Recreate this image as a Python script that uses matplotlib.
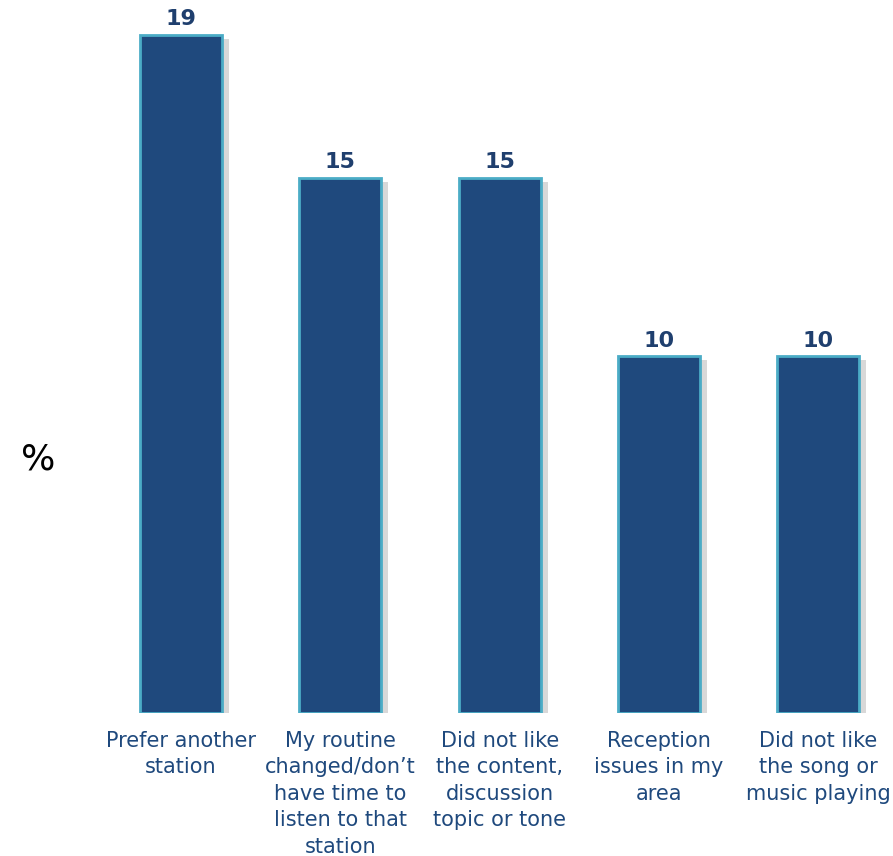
import matplotlib
matplotlib.use("Agg")
import matplotlib.pyplot as plt
import matplotlib.patheffects as pe

categories = ["Prefer another\nstation",
              "My routine\nchanged/don\u2019t\nhave time to\nlisten to that\nstation",
              "Did not like\nthe content,\ndiscussion\ntopic or tone",
              "Reception\nissues in my\narea",
              "Did not like\nthe song or\nmusic playing"]
values = [19, 15, 15, 10, 10]

bar_col = "#1f497d"
edge_col = "#4bacc6"
txt_col = "#1f497d"

fig = plt.figure(figsize=(8.93, 8.56), dpi=100)
ax = fig.add_axes([85.4/893, (856-713)/856, (890-85.4)/893, 696/856])

x = range(len(values))
bars = ax.bar(x, values, width=0.514, color=bar_col, edgecolor=edge_col, linewidth=2)
for b in bars:
    b.set_path_effects([pe.SimplePatchShadow(offset=(5, -3), shadow_rgbFace="#808080", alpha=0.3), pe.Normal()])

for xi, v in zip(x, values):
    ax.annotate(str(v), (xi, v), xytext=(0, 4), textcoords="offset points",
                ha="center", va="bottom", fontsize=16, fontweight="bold", color="#1f3f6e")

ax.set_xlim(-0.6, 4.45)
ax.set_ylim(0, 19.5)
ax.set_xticks(list(x))
ax.set_xticklabels(categories, fontsize=15, color=txt_col, linespacing=1.4, va="top")
ax.tick_params(axis="x", length=0, pad=13)
ax.set_yticks([])
for s in ax.spines.values():
    s.set_visible(False)

fig.text(38/893, 1-460/856, "%", fontsize=26, ha="center", va="center", color="black")

fig.savefig("out.png", dpi=100)
